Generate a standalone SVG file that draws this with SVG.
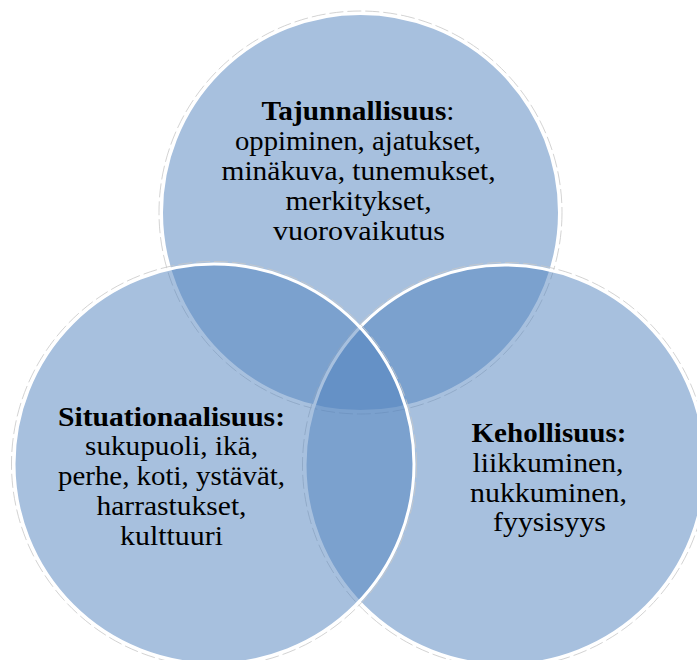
<svg xmlns="http://www.w3.org/2000/svg" width="697" height="660" viewBox="0 0 697 660">
  <style>
    .halo { fill: none; stroke: #c8c8c8; stroke-width: 1; stroke-dasharray: 14 4; opacity: 0.8; }
    .circ { fill: #4F81BD; fill-opacity: 0.5; stroke: #ffffff; stroke-width: 3; }
  </style>
  <rect x="0" y="0" width="697" height="660" fill="#ffffff"/>
  <g id="node-tajunnallisuus">
    <circle class="halo" cx="360.5" cy="212.5" r="201.5"/>
    <circle class="circ" cx="360.5" cy="212.5" r="199"/>
  </g>
  <g id="node-kehollisuus">
    <circle class="halo" cx="505" cy="465" r="202.5"/>
    <circle class="circ" cx="505" cy="465" r="200"/>
  </g>
  <g id="node-situationaalisuus">
    <circle class="halo" cx="214" cy="464" r="202.5"/>
    <circle class="circ" cx="214" cy="464" r="200"/>
  </g>
  <g id="labels-tajunnallisuus" font-family="'Liberation Serif', serif" font-size="27" fill="#000000" text-anchor="middle">
    <text x="358" y="120" textLength="193" lengthAdjust="spacingAndGlyphs"><tspan font-weight="bold">Tajunnallisuus</tspan>:</text>
    <text x="358" y="150" textLength="246" lengthAdjust="spacingAndGlyphs">oppiminen, ajatukset,</text>
    <text x="358.5" y="180" textLength="274" lengthAdjust="spacingAndGlyphs">minäkuva, tunemukset,</text>
    <text x="358.5" y="210" textLength="146" lengthAdjust="spacingAndGlyphs">merkitykset,</text>
    <text x="359" y="240" textLength="172" lengthAdjust="spacingAndGlyphs">vuorovaikutus</text>
  </g>
  <g id="labels-situationaalisuus" font-family="'Liberation Serif', serif" font-size="27" fill="#000000" text-anchor="middle">
    <text x="171.5" y="425.5" font-weight="bold" textLength="227" lengthAdjust="spacingAndGlyphs">Situationaalisuus:</text>
    <text x="171.5" y="455" textLength="173" lengthAdjust="spacingAndGlyphs">sukupuoli, ikä,</text>
    <text x="171.5" y="485" textLength="227" lengthAdjust="spacingAndGlyphs">perhe, koti, ystävät,</text>
    <text x="171.5" y="515" textLength="150" lengthAdjust="spacingAndGlyphs">harrastukset,</text>
    <text x="171.5" y="545" textLength="103" lengthAdjust="spacingAndGlyphs">kulttuuri</text>
  </g>
  <g id="labels-kehollisuus" font-family="'Liberation Serif', serif" font-size="27" fill="#000000" text-anchor="middle">
    <text x="549" y="442" font-weight="bold" textLength="155" lengthAdjust="spacingAndGlyphs">Kehollisuus:</text>
    <text x="548" y="472" textLength="151" lengthAdjust="spacingAndGlyphs">liikkuminen,</text>
    <text x="548.5" y="502" textLength="157" lengthAdjust="spacingAndGlyphs">nukkuminen,</text>
    <text x="549.5" y="531" textLength="113" lengthAdjust="spacingAndGlyphs">fyysisyys</text>
  </g>
  <g id="connectors"></g>
</svg>
